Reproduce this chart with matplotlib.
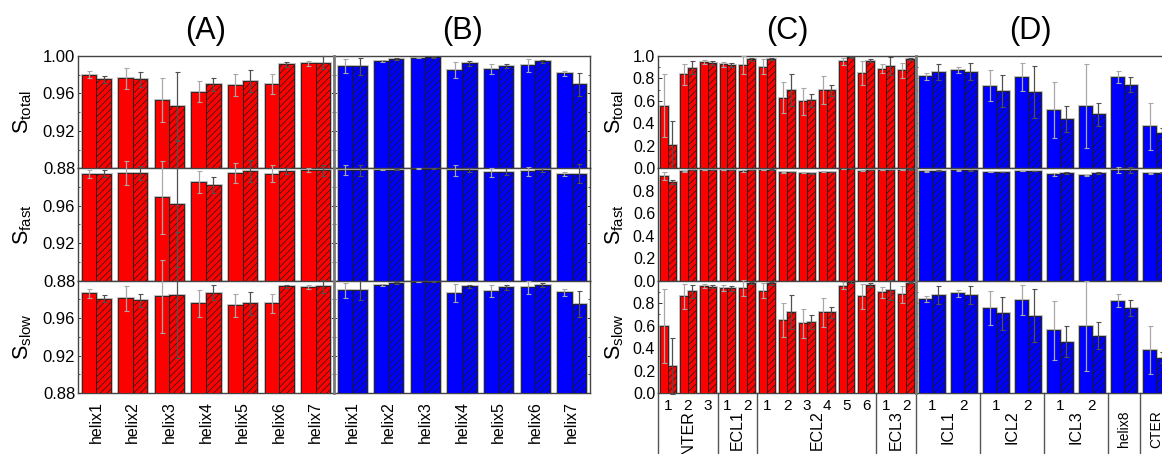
import numpy as np
import matplotlib.pyplot as plt
from matplotlib import transforms
from matplotlib.ticker import MultipleLocator

plt.rcParams['font.family'] = ['Liberation Sans', 'DejaVu Sans']
plt.rcParams['mathtext.fontset'] = 'custom'
plt.rcParams['mathtext.rm'] = 'Liberation Sans'
plt.rcParams['mathtext.it'] = 'Liberation Sans:italic'
plt.rcParams['hatch.linewidth'] = 0.5

# ---- data: solid bar = first series, hatched bar = second series ----
helix_labels = ['helix1', 'helix2', 'helix3', 'helix4', 'helix5', 'helix6', 'helix7']

A_tot = [0.980, 0.976, 0.953, 0.962, 0.969, 0.970, 0.992]
A_tot_err = [0.0036, 0.0115, 0.023, 0.0116, 0.0116, 0.0104, 0.003]
A_tot_h = [0.975, 0.975, 0.9466, 0.970, 0.973, 0.991, 0.9928]
A_tot_h_err = [0.0036, 0.008, 0.036, 0.007, 0.012, 0.0025, 0.007]
A_fast = [0.9936, 0.995, 0.969, 0.9854, 0.995, 0.9943, 0.9979]
A_fast_err = [0.0043, 0.0128, 0.039, 0.012, 0.011, 0.0092, 0.002]
A_fast_h = [0.9943, 0.995, 0.9617, 0.9826, 0.9968, 0.997, 0.998]
A_fast_h_err = [0.0036, 0.007, 0.067, 0.0085, 0.0117, 0.0036, 0.006]
A_slow = [0.9864, 0.981, 0.9836, 0.9757, 0.974, 0.9757, 0.9936]
A_slow_err = [0.005, 0.0129, 0.039, 0.0146, 0.0123, 0.0098, 0.002]
A_slow_h = [0.9807, 0.979, 0.9846, 0.987, 0.9757, 0.9939, 0.994]
A_slow_h_err = [0.0036, 0.007, 0.067, 0.0079, 0.0123, 0.0018, 0.007]

B_tot = [0.989, 0.9946, 0.998, 0.985, 0.986, 0.990, 0.9817]
B_tot_err = [0.0075, 0.001, 0.0005, 0.009, 0.005, 0.007, 0.0027]
B_tot_h = [0.989, 0.9968, 0.9986, 0.992, 0.9896, 0.9943, 0.9696]
B_tot_h_err = [0.009, 0.001, 0.0005, 0.0023, 0.0023, 0.0018, 0.0127]
B_fast = [0.998, 0.9985, 0.9996, 0.998, 0.9957, 0.9968, 0.994]
B_fast_err = [0.005, 0.0005, 0.0003, 0.006, 0.0047, 0.005, 0.0025]
B_fast_h = [0.998, 0.9985, 0.9996, 0.998, 0.9964, 0.998, 0.9943]
B_fast_h_err = [0.006, 0.0005, 0.0003, 0.002, 0.0036, 0.002, 0.01]
B_slow = [0.9896, 0.9954, 0.9986, 0.9868, 0.989, 0.993, 0.9875]
B_slow_err = [0.0084, 0.0014, 0.0005, 0.0093, 0.006, 0.007, 0.0034]
B_slow_h = [0.9896, 0.998, 0.999, 0.994, 0.993, 0.9957, 0.975]
B_slow_h_err = [0.01, 0.001, 0.0005, 0.0018, 0.0027, 0.002, 0.0136]

C_ticks = ['1', '2', '3', '1', '2', '1', '2', '3', '4', '5', '6', '1', '2']
C_groups = ['INTER', 'ECL1', 'ECL2', 'ECL3']
C_group_start = [0, 3, 5, 11]
C_group_end = [2, 4, 10, 12]

C_tot = [0.558, 0.836, 0.943, 0.925, 0.922, 0.904, 0.630, 0.597, 0.698, 0.952, 0.845, 0.887, 0.872]
C_tot_err = [0.28, 0.097, 0.018, 0.024, 0.078, 0.066, 0.137, 0.12, 0.124, 0.03, 0.107, 0.039, 0.067]
C_tot_h = [0.209, 0.896, 0.937, 0.922, 0.970, 0.973, 0.698, 0.606, 0.693, 0.988, 0.958, 0.910, 0.976]
C_tot_h_err = [0.21, 0.056, 0.016, 0.02, 0.013, 0.012, 0.143, 0.06, 0.05, 0.005, 0.015, 0.08, 0.01]
C_fast = [0.935, 0.973, 0.985, 0.985, 0.976, 0.985, 0.964, 0.962, 0.970, 0.994, 0.979, 0.985, 0.985]
C_fast_err = [0.036, 0.006, 0.004, 0.004, 0.008, 0.004, 0.006, 0.004, 0.004, 0.003, 0.005, 0.004, 0.004]
C_fast_h = [0.879, 0.985, 0.985, 0.985, 0.985, 0.988, 0.967, 0.956, 0.967, 0.997, 0.985, 0.985, 0.990]
C_fast_h_err = [0.02, 0.003, 0.003, 0.003, 0.003, 0.003, 0.004, 0.004, 0.003, 0.002, 0.004, 0.003, 0.003]
C_slow = [0.595, 0.860, 0.952, 0.9375, 0.9375, 0.911, 0.649, 0.619, 0.717, 0.955, 0.860, 0.896, 0.880]
C_slow_err = [0.33, 0.11, 0.02, 0.027, 0.07, 0.068, 0.15, 0.125, 0.127, 0.03, 0.11, 0.046, 0.075]
C_slow_h = [0.238, 0.905, 0.946, 0.932, 0.979, 0.976, 0.720, 0.631, 0.717, 0.988, 0.964, 0.917, 0.982]
C_slow_h_err = [0.25, 0.06, 0.015, 0.025, 0.01, 0.01, 0.15, 0.065, 0.05, 0.006, 0.018, 0.09, 0.006]

D_ticks = ['1', '2', '1', '2', '1', '2', '', '']
D_groups = ['ICL1', 'ICL2', 'ICL3', 'helix8', 'CTER']
D_group_start = [0, 2, 4, 6, 7]
D_group_end = [1, 3, 5, 6, 7]

D_tot = [0.821, 0.878, 0.737, 0.815, 0.519, 0.555, 0.815, 0.373]
D_tot_err = [0.031, 0.027, 0.137, 0.125, 0.248, 0.373, 0.052, 0.209]
D_tot_h = [0.857, 0.860, 0.687, 0.678, 0.439, 0.480, 0.746, 0.310]
D_tot_h_err = [0.075, 0.075, 0.142, 0.234, 0.12, 0.1, 0.069, 0.05]
D_fast = [0.973, 0.982, 0.967, 0.976, 0.947, 0.938, 0.985, 0.956]
D_fast_err = [0.004, 0.003, 0.004, 0.003, 0.012, 0.006, 0.03, 0.004]
D_fast_h = [0.979, 0.982, 0.967, 0.976, 0.959, 0.956, 0.985, 0.959]
D_fast_h_err = [0.003, 0.003, 0.003, 0.003, 0.006, 0.008, 0.03, 0.004]
D_slow = [0.836, 0.887, 0.759, 0.830, 0.557, 0.595, 0.821, 0.387]
D_slow_err = [0.03, 0.034, 0.15, 0.134, 0.266, 0.40, 0.057, 0.214]
D_slow_h = [0.872, 0.872, 0.708, 0.690, 0.458, 0.512, 0.753, 0.315]
D_slow_h_err = [0.077, 0.077, 0.15, 0.237, 0.138, 0.12, 0.071, 0.05]

row_names = ['total', 'fast', 'slow']
panels = {
    'A': ('red', [(A_tot, A_tot_err, A_tot_h, A_tot_h_err),
                  (A_fast, A_fast_err, A_fast_h, A_fast_h_err),
                  (A_slow, A_slow_err, A_slow_h, A_slow_h_err)]),
    'B': ('blue', [(B_tot, B_tot_err, B_tot_h, B_tot_h_err),
                   (B_fast, B_fast_err, B_fast_h, B_fast_h_err),
                   (B_slow, B_slow_err, B_slow_h, B_slow_h_err)]),
    'C': ('red', [(C_tot, C_tot_err, C_tot_h, C_tot_h_err),
                  (C_fast, C_fast_err, C_fast_h, C_fast_h_err),
                  (C_slow, C_slow_err, C_slow_h, C_slow_h_err)]),
    'D': ('blue', [(D_tot, D_tot_err, D_tot_h, D_tot_h_err),
                   (D_fast, D_fast_err, D_fast_h, D_fast_h_err),
                   (D_slow, D_slow_err, D_slow_h, D_slow_h_err)]),
}

# ---- layout (pixels) ----
W, H = 1162, 454
col_left = {'A': 78, 'B': 334, 'C': 658, 'D': 916}
col_width = {'A': 256, 'B': 256, 'C': 258, 'D': 256}
row_top = [56, 168.3, 280.7]
row_h = 112.3


def draw_bars(ax, vals, errs, vals_h, errs_h, color):
    x = np.arange(len(vals))
    for xs, v, e, hatch, ecol in [(x - 0.2, vals, errs, None, '#a8a8a8'),
                                  (x + 0.2, vals_h, errs_h, '/////', '#505050')]:
        ax.bar(xs, v, 0.4, color=color, edgecolor='#b8b8b8', linewidth=2.0, zorder=2)
        ax.bar(xs, v, 0.4, color=color, edgecolor='#1a1a1a', linewidth=0.6,
               hatch=hatch, zorder=3)
        eb = ax.errorbar(xs, v, yerr=e, fmt='none', ecolor=ecol, elinewidth=0.9,
                         capsize=1.8, capthick=0.8, zorder=4)
        for c in eb[1]:
            c.set_color('#303030')
            c.set_clip_on(False)
        for c in eb[2]:
            c.set_clip_on(False)


fig = plt.figure(figsize=(W / 100, H / 100), dpi=100)

axes = {}
for name, (color, rows) in panels.items():
    for r, (v, e, vh, eh) in enumerate(rows):
        l = col_left[name] / W
        b = 1 - (row_top[r] + row_h) / H
        ax = fig.add_axes([l, b, col_width[name] / W, row_h / H])
        axes[(name, r)] = ax
        draw_bars(ax, v, e, vh, eh, color)
        n = len(v)
        ax.set_xlim(-0.5, n - 0.5)
        if name in 'AB':
            ax.set_ylim(0.88, 1.0)
            ax.set_yticks([0.88, 0.92, 0.96, 1.00])
            ax.yaxis.set_minor_locator(MultipleLocator(0.02))
            labels = ['0.88', '0.92', '0.96', '1.00' if r == 0 else '']
            fs = 12
        else:
            ax.set_ylim(0, 1.0)
            ax.set_yticks([0, 0.2, 0.4, 0.6, 0.8, 1.0])
            ax.yaxis.set_minor_locator(MultipleLocator(0.1))
            labels = ['0.0', '0.2', '0.4', '0.6', '0.8', '1.0' if r == 0 else '']
            fs = 11.5
        if name in 'AC':
            ax.set_yticklabels(labels, fontsize=fs)
        else:
            ax.set_yticklabels([])
        ax.tick_params(axis='y', which='both', direction='in', left=True, right=True,
                       pad=2, colors='#333333', labelcolor='black')
        ax.tick_params(axis='y', which='major', length=3, width=0.7)
        ax.tick_params(axis='y', which='minor', length=1.5, width=0.6)
        ax.tick_params(axis='x', length=0)
        for s in ax.spines.values():
            s.set_color('#444444')
            s.set_linewidth(1.0)
        if name in 'BD':
            ax.spines['left'].set_color('#7a7a7a')
            ax.spines['left'].set_linewidth(2.0)
            ax.spines['left'].set_zorder(5)
        if r < 2:
            ax.set_xticks([])
        else:
            ax.set_xticks(np.arange(n))
            if name in 'AB':
                ax.set_xticklabels(helix_labels, rotation=90, fontsize=11.5,
                                   va='top', ha='center')
                ax.tick_params(axis='x', pad=6)
            else:
                ticks = C_ticks if name == 'C' else D_ticks
                ax.set_xticklabels(ticks, fontsize=11)
                ax.tick_params(axis='x', pad=4)

# group labels and separators below panels C and D
for name, groups, starts, ends in [('C', C_groups, C_group_start, C_group_end),
                                   ('D', D_groups, D_group_start, D_group_end)]:
    ax = axes[(name, 2)]
    trans = transforms.blended_transform_factory(ax.transData, ax.transAxes)
    for g, s, e in zip(groups, starts, ends):
        fs = 10 if g in ('helix8', 'CTER') else 11.5
        ax.text((s + e) / 2, -0.155, g, rotation=90, ha='center', va='top',
                fontsize=fs, transform=trans, clip_on=False)
        ax.plot([s - 0.5, s - 0.5], [0, -0.7], color='#555555', lw=1.0,
                transform=trans, clip_on=False)

# y labels
for r, nm in enumerate(row_names):
    yc = 1 - (row_top[r] + row_h / 2) / H
    for xpx in (23, 615):
        fig.text(xpx / W, yc, r'$\mathrm{S}_{\mathrm{' + nm + '}}$', rotation=90,
                 ha='center', va='center', fontsize=15.5)

# panel titles
for lab, xpx in [('(A)', 206), ('(B)', 462), ('(C)', 787), ('(D)', 1030)]:
    fig.text(xpx / W, 1 - 31 / H, lab, ha='center', va='center', fontsize=22)

fig.savefig('out.png', dpi=100)
